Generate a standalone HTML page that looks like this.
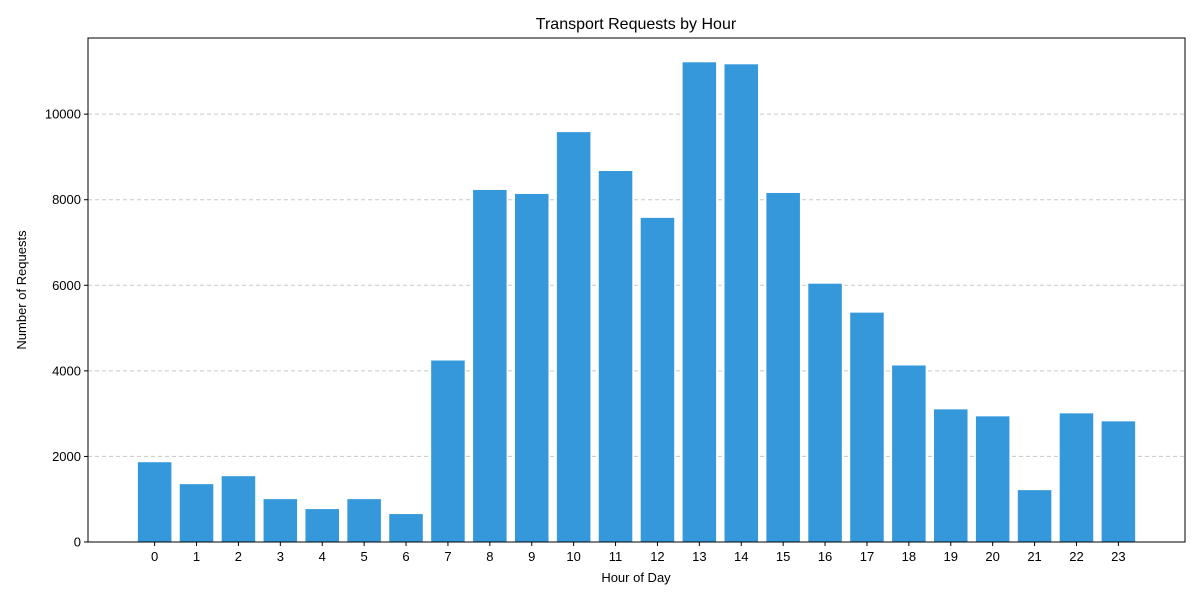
<!DOCTYPE html>
<html><head><meta charset="utf-8">
<style>
html,body{margin:0;padding:0;background:#fff;}
svg text{font-family:"Liberation Sans","DejaVu Sans",sans-serif;fill:#000;}
</style></head>
<body>
<svg id="chart" width="1200" height="600" viewBox="0 0 1200 600" xmlns="http://www.w3.org/2000/svg">
<rect width="1200" height="600" fill="#fff"/>
<g id="grid"></g>
<g id="bars"></g>
<g id="xticks"></g>
<g id="yticks"></g>
<rect x="88" y="38" width="1097" height="504" fill="none" stroke="#000" stroke-width="1"/>
<text x="636" y="29" font-size="16" text-anchor="middle">Transport Requests by Hour</text>
<text x="636" y="582" font-size="13" text-anchor="middle">Hour of Day</text>
<text transform="translate(26,290) rotate(-90)" font-size="13" text-anchor="middle">Number of Requests</text>
</svg>
<script>
const hours = [0,1,2,3,4,5,6,7,8,9,10,11,12,13,14,15,16,17,18,19,20,21,22,23];
const requests = [1865,1352,1538,1002,769,1002,653,4242,8228,8135,9580,8671,7576,11212,11165,8158,6037,5361,4126,3100,2937,1212,3007,2820];
const yTickValues = [0,2000,4000,6000,8000,10000];

const L=88,R=1185,T=38,B=542;
const xMin=-1.59,xMax=24.59,yMax=11780;
const xs=v=>L+(v-xMin)/(xMax-xMin)*(R-L);
const ys=v=>B-v/yMax*(B-T);
const NS="http://www.w3.org/2000/svg";
const mk=(t,a)=>{const e=document.createElementNS(NS,t);for(const k in a)e.setAttribute(k,a[k]);return e;};

const grid=document.getElementById('grid'),yt=document.getElementById('yticks');
yTickValues.forEach(v=>{
  const y=ys(v);
  if(v>0){const g=mk('line',{x1:L,x2:R,y1:y,y2:y,stroke:'#c8c8c8','stroke-dasharray':'4,3','stroke-width':1});
  
  
  grid.appendChild(g);}
  const t=mk('line',{x1:L-4,x2:L,y1:y,y2:y,stroke:'#000'});
  
  
  yt.appendChild(t);
  const l=mk('text',{x:L-7,y:y+4.5,'font-size':13,'text-anchor':'end'});
  l.textContent=v;
  
  
  yt.appendChild(l);
});
const bars=document.getElementById('bars'),xt=document.getElementById('xticks');
const bw=0.8;
hours.forEach((h,i)=>{
  const x0=xs(h-bw/2),x1=xs(h+bw/2),y=ys(requests[i]);
  const r=mk('rect',{x:x0,y:y,width:x1-x0,height:B-y,fill:'#3498db'});
  
  
  bars.appendChild(r);
  const cx=xs(h);
  const t=mk('line',{x1:cx,x2:cx,y1:B,y2:B+4,stroke:'#000'});
  
  
  xt.appendChild(t);
  const l=mk('text',{x:cx,y:B+19,'font-size':13,'text-anchor':'middle'});
  l.textContent=h;
  
  
  xt.appendChild(l);
});
</script>
</body></html>
